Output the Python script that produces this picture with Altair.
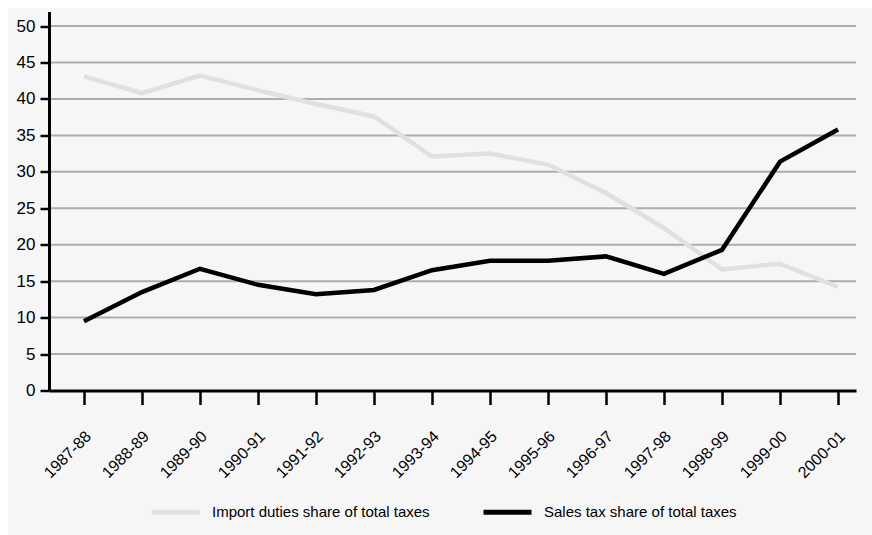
import altair as alt
import pandas as pd

years = ['1987-88', '1988-89', '1989-90', '1990-91', '1991-92', '1992-93', '1993-94',
         '1994-95', '1995-96', '1996-97', '1997-98', '1998-99', '1999-00', '2000-01']
import_duties = [43.1, 40.8, 43.2, 41.2, 39.3, 37.6, 32.1, 32.5, 31.0, 27.1, 22.3, 16.6, 17.4, 14.2]
sales_tax = [9.5, 13.5, 16.7, 14.5, 13.2, 13.8, 16.5, 17.8, 17.8, 18.4, 16.0, 19.3, 31.4, 35.8]
series_names = ['Import duties share of total taxes', 'Sales tax share of total taxes']
series_colors = ['#e0e0e0', '#000000']
y_ticks = [0, 5, 10, 15, 20, 25, 30, 35, 40, 45, 50]
grid_values = [5, 10, 15, 20, 25, 30, 35, 40, 45, 50]

FONT = 'Liberation Sans'

rows = []
for i, y in enumerate(years):
    rows.append({'i': i, 'year': y, 'series': series_names[0], 'value': import_duties[i]})
    rows.append({'i': i, 'year': y, 'series': series_names[1], 'value': sales_tax[i]})
df = pd.DataFrame(rows)
grid_df = pd.DataFrame({'value': grid_values})

W, H = 807, 379

label_expr = '[' + ','.join("'%s'" % y for y in years) + '][datum.value]'

x_scale = alt.Scale(domain=[-0.603, 13.31], nice=False, zero=False)
y_scale = alt.Scale(domain=[0, 52], nice=False)

y_axis = alt.Axis(title=None, values=y_ticks, tickSize=9, tickWidth=2.5, tickColor='#000',
                  domainColor='#000', domainWidth=3, labelPadding=5,
                  labelFontSize=17, labelFont=FONT, labelColor='#000',
                  grid=False, zindex=1)

bg = alt.Chart(pd.DataFrame({'a': [0]})).mark_rect(color='#f6f6f6').encode(
    x=alt.value(-41), x2=alt.value(W + 16), y=alt.value(-3.5), y2=alt.value(H + 145)
)

grid = alt.Chart(grid_df).mark_rule(color='#adadad', strokeWidth=2).encode(
    y=alt.Y('value:Q', scale=y_scale, axis=y_axis)
)

lines = alt.Chart(df).mark_line(strokeWidth=4.5).encode(
    x=alt.X('i:Q', scale=x_scale,
            axis=alt.Axis(title=None, values=list(range(len(years))), labelExpr=label_expr,
                          labelAngle=-45, labelAlign='right', labelBaseline='middle',
                          tickSize=14, tickWidth=2.5, tickColor='#000',
                          domainColor='#000', domainWidth=3,
                          labelPadding=29, labelOffset=4, labelFontSize=16, labelFont=FONT,
                          labelColor='#000', grid=False, zindex=1, labelOverlap=False)),
    y=alt.Y('value:Q', scale=y_scale, axis=y_axis),
    color=alt.Color('series:N', sort=series_names,
                    scale=alt.Scale(domain=series_names, range=series_colors),
                    legend=alt.Legend(title=None, orient='none', direction='horizontal',
                                      legendX=100, legendY=474,
                                      symbolType='stroke', symbolSize=2304, symbolStrokeWidth=5,
                                      labelFont=FONT, labelFontSize=15, labelColor='#000',
                                      labelLimit=0, labelOffset=10, columnPadding=43)),
    order=alt.Order('i:Q')
)

chart = alt.layer(bg, grid, lines).properties(
    width=W, height=H,
    autosize=alt.AutoSizeParams(type='none'),
    padding={'left': 49, 'top': 11.5, 'right': 16, 'bottom': 144.5},
    background='white'
).configure_view(stroke=None)

chart.save('out.html', embed_options={'renderer': 'svg', 'actions': False})
